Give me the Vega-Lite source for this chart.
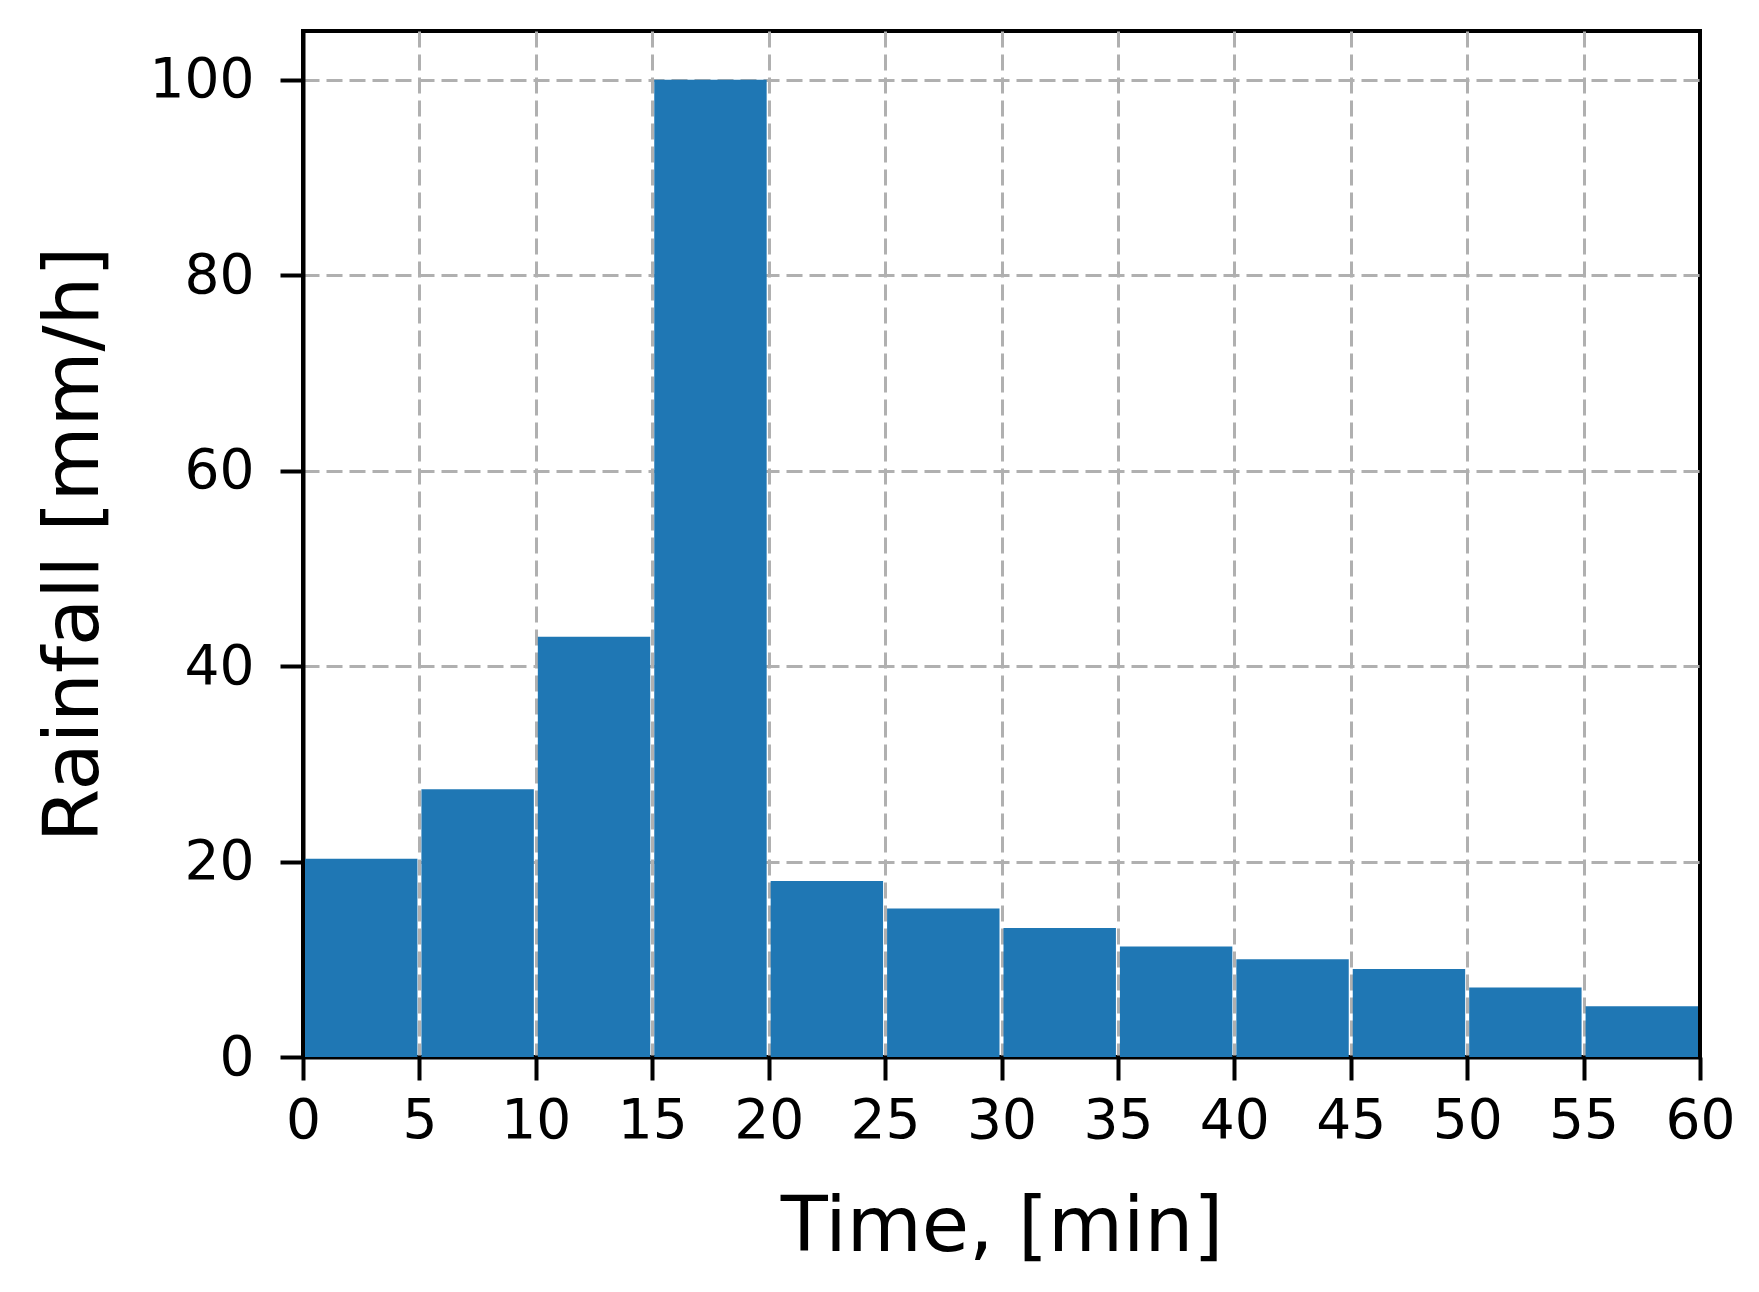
{
  "$schema": "https://vega.github.io/schema/vega-lite/v6.json",
  "autosize": "none",
  "width": 1397,
  "height": 1026,
  "padding": {"left": 303, "top": 31, "right": 59, "bottom": 235},
  "background": "white",
  "config": {
    "view": {"stroke": "black", "strokeWidth": 4},
    "font": "DejaVu Sans",
    "axis": {
      "domainColor": "black", "domainWidth": 4,
      "tickColor": "black", "tickWidth": 4, "tickSize": 23,
      "labelFont": "DejaVu Sans", "labelFontSize": 55, "labelColor": "black",
      "titleFont": "DejaVu Sans", "titleFontSize": 77, "titleFontWeight": "normal", "titleColor": "black",
      "gridColor": "#b0b0b0", "gridWidth": 3, "gridDash": [16, 7]
    }
  },
  "data": {
    "values": [
      {"start": 0, "end": 5, "rain": 20.3},
      {"start": 5, "end": 10, "rain": 27.4},
      {"start": 10, "end": 15, "rain": 43.0},
      {"start": 15, "end": 20, "rain": 100.0},
      {"start": 20, "end": 25, "rain": 18.0},
      {"start": 25, "end": 30, "rain": 15.2},
      {"start": 30, "end": 35, "rain": 13.2},
      {"start": 35, "end": 40, "rain": 11.3},
      {"start": 40, "end": 45, "rain": 10.0},
      {"start": 45, "end": 50, "rain": 9.0},
      {"start": 50, "end": 55, "rain": 7.1},
      {"start": 55, "end": 60, "rain": 5.2}
    ]
  },
  "mark": {"type": "bar", "color": "#1f77b4", "xOffset": 2, "x2Offset": -2},
  "encoding": {
    "x": {
      "field": "start", "type": "quantitative",
      "scale": {"domain": [0, 60], "nice": false, "zero": false},
      "axis": {
        "title": "Time, [min]", "values": [0,5,10,15,20,25,30,35,40,45,50,55,60],
        "labelPadding": 14, "titlePadding": 41, "labelFlush": false, "labelOverlap": false,
        "gridOpacity": {"condition": {"test": "datum.value == 60 || datum.value == 0", "value": 0}, "value": 1}
      }
    },
    "x2": {"field": "end"},
    "y": {
      "field": "rain", "type": "quantitative",
      "scale": {"domain": [0, 105], "nice": false},
      "axis": {
        "title": "Rainfall [mm/h]", "values": [0,20,40,60,80,100],
        "labelPadding": 26, "titlePadding": 36,
        "gridOpacity": {"condition": {"test": "datum.value == 0", "value": 0}, "value": 1}
      }
    },
    "y2": {"datum": 0}
  }
}
